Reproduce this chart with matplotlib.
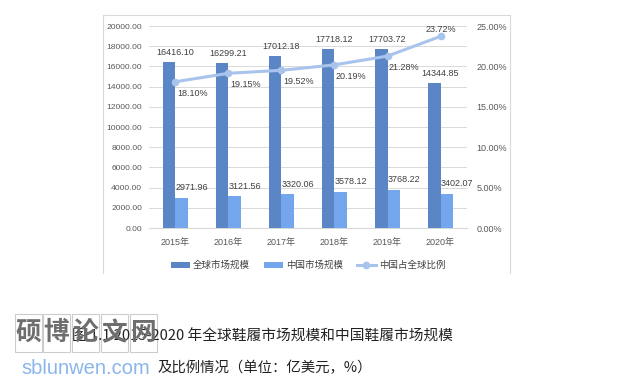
import numpy as np
import matplotlib
matplotlib.use("Agg")
import matplotlib.pyplot as plt
from matplotlib.lines import Line2D
from matplotlib.patches import Rectangle
from matplotlib.ticker import FuncFormatter

plt.rcParams['font.family'] = ['Liberation Sans', 'Noto Sans CJK SC', 'DejaVu Sans']

# 数据
years = ['2015年', '2016年', '2017年', '2018年', '2019年', '2020年']
global_size = [16416.10, 16299.21, 17012.18, 17718.12, 17703.72, 14344.85]
china_size = [2971.96, 3121.56, 3320.06, 3578.12, 3768.22, 3402.07]
china_share = [18.10, 19.15, 19.52, 20.19, 21.28, 23.72]
legend_names = ['全球市场规模', '中国市场规模', '中国占全球比例']

c_global = '#5b86c5'
c_china = '#74a6ee'
c_line = '#a9c4ec'
c_text = '#404040'
c_tick = '#595959'

fig = plt.figure(figsize=(6.34, 3.86), dpi=100)
ax = fig.add_axes([0.235, 0.4093, 0.5016, 0.5233])
ax2 = ax.twinx()

x = np.arange(len(years))
w = 0.235
ax.bar(x - w / 2, global_size, w, color=c_global, label=legend_names[0], zorder=3)
ax.bar(x + w / 2, china_size, w, color=c_china, label=legend_names[1], zorder=3)

for i in range(len(years)):
    ax.annotate(f'{global_size[i]:.2f}', (x[i], global_size[i]), xytext=(0, 4),
                textcoords='offset points', ha='center', va='bottom',
                fontsize=6.5, color=c_text)
    ax.annotate(f'{china_size[i]:.2f}', (x[i] + w / 2, china_size[i]), xytext=(-4.5, 4),
                textcoords='offset points', ha='left', va='bottom',
                fontsize=6.5, color=c_text)

ax2.plot(x, china_share, color=c_line, lw=2.2, marker='o', ms=4.5,
         label=legend_names[2], zorder=4)
for i in range(len(years)):
    if i == len(years) - 1:
        off = (0, 1.5)
        va = 'bottom'
    else:
        off = (12, -5)
        va = 'top'
    ax2.annotate(f'{china_share[i]:.2f}%', (x[i], china_share[i]), xytext=off,
                 textcoords='offset points', ha='center', va=va,
                 fontsize=6.5, color=c_text)

ax.set_xlim(-0.5, 5.5)
ax.set_ylim(0, 20000)
ax.set_yticks(np.arange(0, 20001, 2000))
ax.yaxis.set_major_formatter(FuncFormatter(lambda v, p: f'{v:.2f}'))
ax2.set_ylim(0, 25)
ax2.set_yticks(np.arange(0, 26, 5))
ax2.yaxis.set_major_formatter(FuncFormatter(lambda v, p: f'{v:.2f}%'))

ax.set_xticks(x)
ax.set_xticklabels(years)
ax.grid(axis='y', color='#d9d9d9', lw=0.7, zorder=0)
for a in (ax, ax2):
    for s in a.spines.values():
        s.set_visible(False)
    a.tick_params(length=0, labelsize=6.5, colors=c_tick)
ax.spines['bottom'].set_visible(True)
ax.spines['bottom'].set_color('#d9d9d9')
ax.tick_params(axis='y', pad=5, labelsize=6.1)
ax.tick_params(axis='x', pad=7)
ax2.tick_params(axis='y', pad=7)

h1, l1 = ax.get_legend_handles_labels()
h2, l2 = ax2.get_legend_handles_labels()
fig.legend(h1 + h2, l1 + l2, loc='center', bbox_to_anchor=(0.486, 0.313), ncol=3,
           frameon=False, fontsize=6.8, handlelength=2.0, handleheight=0.6,
           columnspacing=1.5, handletextpad=0.3, labelcolor=c_text)

# 图表外框
bc = '#d9d9d9'
for xs, ys in [([0.1625, 0.1625], [0.293, 0.961]), ([0.1625, 0.8044], [0.961, 0.961]),
               ([0.8044, 0.8044], [0.961, 0.293])]:
    fig.add_artist(Line2D(xs, ys, color=bc, lw=0.8, transform=fig.transFigure))

# 图注
cap_font = ['Noto Sans CJK SC', 'DejaVu Sans']
fig.text(72 / 634, 1 - 337 / 386, '图 1.1 2015-2020 年全球鞋履市场规模和中国鞋履市场规模',
         fontsize=10.6, family=cap_font, color='#222222', ha='left', va='center')
fig.text(157 / 634, 1 - 368 / 386, '及比例情况（单位：亿美元，%）',
         fontsize=10.4, family=cap_font, color='#222222', ha='left', va='center')

# 水印
wm_chars = '硕博论文网'
box_left = [15, 43, 72, 101, 130]
for ch, bx in zip(wm_chars, box_left):
    fig.add_artist(Rectangle((bx / 634, 1 - 352 / 386), 27 / 634, 38 / 386, fill=False,
                             edgecolor='#cccccc', lw=0.8, transform=fig.transFigure))
    fig.text((bx + 13.5) / 634, 1 - 333 / 386, ch, fontsize=18.5, family=cap_font,
             fontweight='heavy', color='#6e6e6e', ha='center', va='center')
fig.text(21 / 634, 1 - 368 / 386, 'sblunwen.com', fontsize=14.5, family=['Liberation Sans'],
         color='#8ab6ea', ha='left', va='center')

fig.savefig('out.png', dpi=100, facecolor='white')
